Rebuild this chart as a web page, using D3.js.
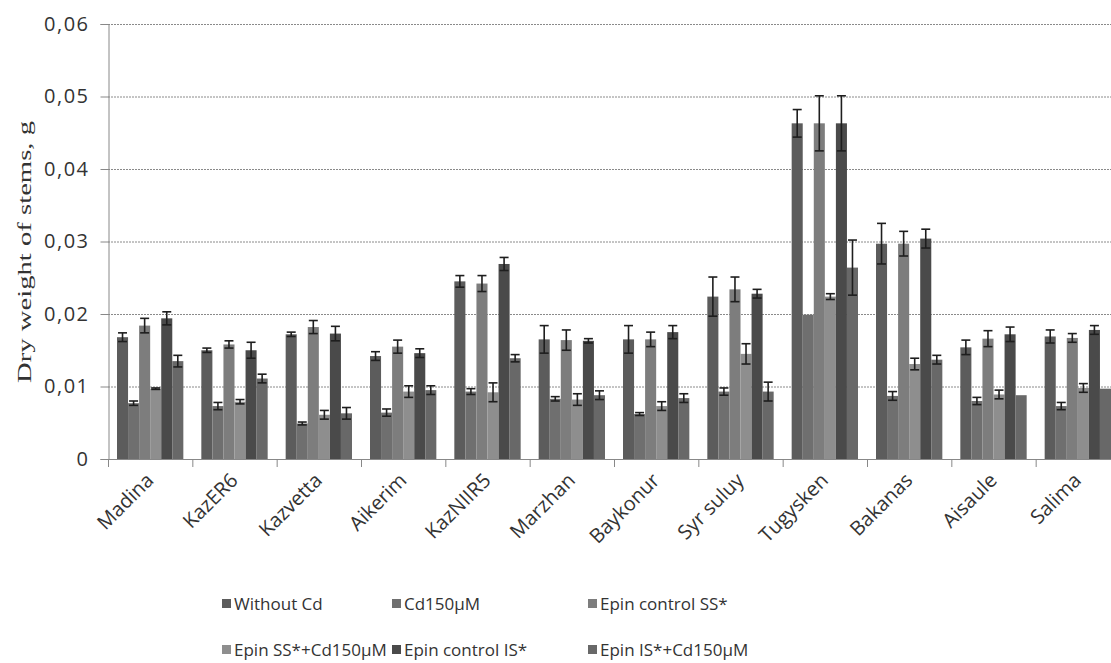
<!DOCTYPE html>
<html>
<head>
<meta charset="utf-8">
<script src="https://cdn.jsdelivr.net/npm/d3@7"></script>
<style>
  html, body { margin: 0; padding: 0; background: #fff; overflow: hidden; }
  svg { display: block; }
</style>
</head>
<body>
<svg id="chart" width="1111" height="663"></svg>
<script>
// Cultivars on the x axis
const categories = ["Madina", "KazER6", "Kazvetta", "Aikerim", "KazNIIR5", "Marzhan",
  "Baykonur", "Syr suluy", "Tugysken", "Bakanas", "Aisaule", "Salima"];

// Treatments (legend order)
const seriesNames = ["Without Cd", "Cd150\u00b5M", "Epin control SS*",
  "Epin SS*+Cd150\u00b5M", "Epin control IS*", "Epin IS*+Cd150\u00b5M"];

// Mean dry weight of stems, g
const withoutCd = [0.0168, 0.0150, 0.0172, 0.0142, 0.0245, 0.0165, 0.0165, 0.0224, 0.0463, 0.0297, 0.0154, 0.0169];
const cd150     = [0.0077, 0.0073, 0.0049, 0.0064, 0.0093, 0.0083, 0.0062, 0.0093, 0.0199, 0.0087, 0.0080, 0.0073];
const epinSS    = [0.0184, 0.0158, 0.0182, 0.0155, 0.0242, 0.0164, 0.0165, 0.0234, 0.0463, 0.0297, 0.0166, 0.0167];
const epinSSCd  = [0.0097, 0.0079, 0.0061, 0.0093, 0.0092, 0.0082, 0.0073, 0.0145, 0.0224, 0.0131, 0.0089, 0.0098];
const epinIS    = [0.0194, 0.0150, 0.0173, 0.0146, 0.0269, 0.0163, 0.0175, 0.0228, 0.0463, 0.0304, 0.0172, 0.0178];
const epinISCd  = [0.0135, 0.0111, 0.0063, 0.0095, 0.0139, 0.0088, 0.0084, 0.0093, 0.0264, 0.0137, 0.0088, 0.0097];

// Standard errors
const errWithoutCd = [0.0006, 0.0003, 0.0003, 0.0006, 0.0008, 0.0019, 0.0019, 0.0027, 0.0019, 0.0028, 0.0010, 0.0009];
const errCd150     = [0.0003, 0.0005, 0.0002, 0.0005, 0.0004, 0.0003, 0.0002, 0.0005, 0.0000, 0.0006, 0.0005, 0.0005];
const errEpinSS    = [0.0010, 0.0005, 0.0009, 0.0009, 0.0011, 0.0014, 0.0010, 0.0017, 0.0038, 0.0017, 0.0011, 0.0006];
const errEpinSSCd  = [0.0001, 0.0003, 0.0006, 0.0008, 0.0013, 0.0008, 0.0006, 0.0014, 0.0004, 0.0008, 0.0006, 0.0006];
const errEpinIS    = [0.0009, 0.0011, 0.0010, 0.0006, 0.0009, 0.0003, 0.0009, 0.0006, 0.0038, 0.0013, 0.0010, 0.0006];
const errEpinISCd  = [0.0008, 0.0006, 0.0008, 0.0006, 0.0005, 0.0006, 0.0006, 0.0013, 0.0038, 0.0006, 0.0000, 0.0000];

const yTicks = [0, 0.01, 0.02, 0.03, 0.04, 0.05, 0.06];
const yTickLabels = ["0", "0,01", "0,02", "0,03", "0,04", "0,05", "0,06"];

const seriesValues = [withoutCd, cd150, epinSS, epinSSCd, epinIS, epinISCd];
const seriesErrors = [errWithoutCd, errCd150, errEpinSS, errEpinSSCd, errEpinIS, errEpinISCd];
const colors = ["#5c5c5c", "#6f6f6f", "#7d7d7d", "#8e8e8e", "#4a4a4a", "#686868"];

const sans = "'Open Sans', sans-serif";
const svg = d3.select("#chart");
const plot = { left: 108, right: 1120, top: 24, bottom: 459 };

const x0 = d3.scaleBand().domain(categories).range([plot.left, plot.right]).padding(0);
const groupPad = 9;
const x1 = d3.scaleBand().domain(d3.range(seriesNames.length))
  .range([groupPad, x0.bandwidth() - groupPad]).padding(0);
const y = d3.scaleLinear().domain([0, 0.06]).range([plot.bottom, plot.top]);

// Horizontal dotted gridlines
svg.append("g").selectAll("line").data(yTicks.filter(d => d > 0)).join("line")
  .attr("x1", plot.left).attr("x2", 1111)
  .attr("y1", d => y(d) + 0.5).attr("y2", d => y(d) + 0.5)
  .attr("stroke", "#8a8a8a").attr("stroke-width", 1)
  .attr("stroke-dasharray", "2,1");

// Y axis
const yAxis = d3.axisLeft(y).tickValues(yTicks)
  .tickFormat((d, i) => yTickLabels[i]).tickSize(8).tickPadding(11);
const gy = svg.append("g").attr("transform", `translate(${plot.left + 0.5},0)`).call(yAxis);
gy.select(".domain").attr("stroke", "#888");
gy.selectAll(".tick line").attr("stroke", "#888");
gy.selectAll(".tick text").attr("fill", "#333")
  .style("font-family", sans).style("font-size", "20px").style("letter-spacing", "1.5px");

// Bars
const data = [];
categories.forEach((c, ci) => {
  seriesNames.forEach((s, si) => {
    data.push({ c, si, v: seriesValues[si][ci], e: seriesErrors[si][ci] });
  });
});

svg.append("g").selectAll("rect").data(data).join("rect")
  .attr("x", d => x0(d.c) + x1(d.si))
  .attr("y", d => y(d.v))
  .attr("width", x1.bandwidth())
  .attr("height", d => y(0) - y(d.v))
  .attr("fill", d => colors[d.si]);

// Error bars
const eb = svg.append("g").attr("stroke", "#1e1e1e").attr("stroke-width", 1.6);
const withErr = data.filter(d => d.e > 0);
const cx = d => x0(d.c) + x1(d.si) + x1.bandwidth() / 2;
const capHalf = 4.5;
eb.selectAll("line.v").data(withErr).join("line").attr("class", "v")
  .attr("x1", cx).attr("x2", cx)
  .attr("y1", d => y(d.v + d.e)).attr("y2", d => y(d.v - d.e));
eb.selectAll("line.t").data(withErr).join("line").attr("class", "t")
  .attr("x1", d => cx(d) - capHalf).attr("x2", d => cx(d) + capHalf)
  .attr("y1", d => y(d.v + d.e)).attr("y2", d => y(d.v + d.e));
eb.selectAll("line.b").data(withErr).join("line").attr("class", "b")
  .attr("x1", d => cx(d) - capHalf).attr("x2", d => cx(d) + capHalf)
  .attr("y1", d => y(d.v - d.e)).attr("y2", d => y(d.v - d.e));

// X axis line and category boundary ticks
svg.append("line").attr("x1", plot.left).attr("x2", 1111)
  .attr("y1", plot.bottom + 0.5).attr("y2", plot.bottom + 0.5)
  .attr("stroke", "#888");
svg.append("g").selectAll("line").data(categories).join("line")
  .attr("x1", c => x0(c) + 0.5).attr("x2", c => x0(c) + 0.5)
  .attr("y1", plot.bottom).attr("y2", plot.bottom + 8)
  .attr("stroke", "#888");

// Rotated category labels
svg.append("g").selectAll("text").data(categories).join("text")
  .attr("transform", c => `translate(${x0(c) + x0.bandwidth() / 2 - 6},${plot.bottom + 12}) rotate(-45)`)
  .attr("text-anchor", "end")
  .attr("dy", "0.75em")
  .attr("fill", "#333")
  .style("font-family", sans).style("font-size", "20px")
  .text(c => c);

// Y axis title
svg.append("text")
  .attr("transform", "translate(24,252) rotate(-90)")
  .attr("text-anchor", "middle")
  .attr("dy", "0.35em")
  .attr("textLength", 262).attr("lengthAdjust", "spacingAndGlyphs")
  .attr("fill", "#333")
  .style("font-family", "'Liberation Serif', serif").style("font-size", "19px")
  .text("Dry weight of stems, g");

// Legend: two rows of three
const legendCols = [222, 392, 588];
const legendRows = [604, 650];
const legend = svg.append("g").selectAll("g").data(seriesNames).join("g")
  .attr("transform", (d, i) => `translate(${legendCols[i % 3]},${legendRows[Math.floor(i / 3)]})`);
legend.append("rect").attr("x", 0).attr("y", -5).attr("width", 9).attr("height", 9)
  .attr("fill", (d, i) => colors[i]);
legend.append("text").attr("x", 12).attr("y", 0).attr("dy", "0.35em")
  .attr("fill", "#333")
  .style("font-family", sans).style("font-size", "17px")
  .text(d => d);
</script>
</body>
</html>
